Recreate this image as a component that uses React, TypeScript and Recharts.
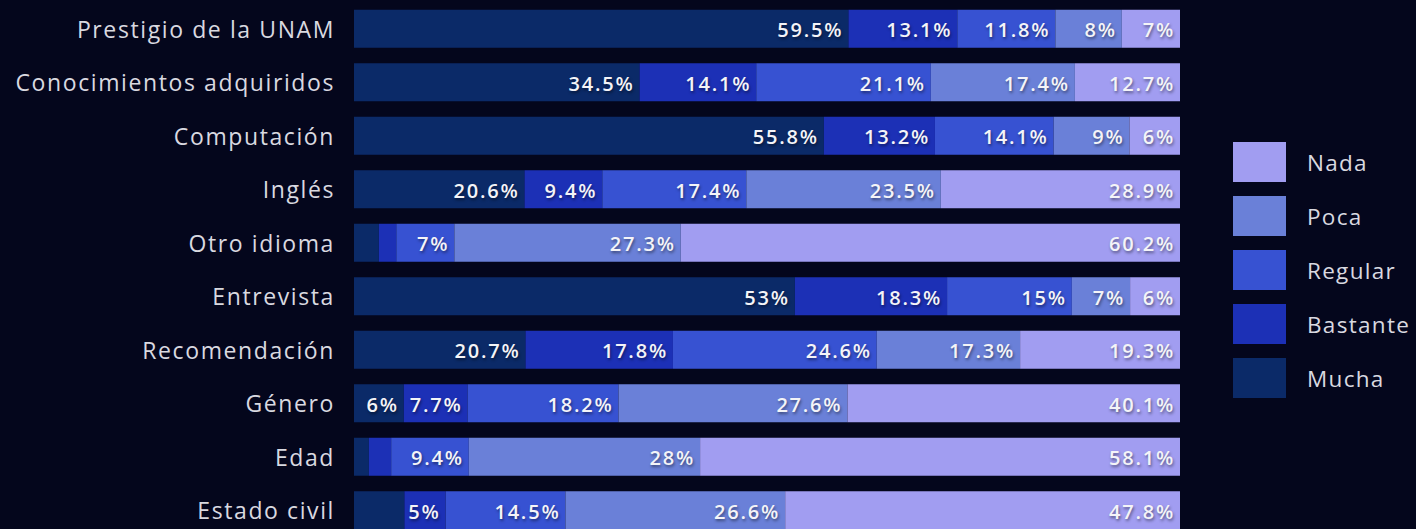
import { BarChart, Bar, XAxis, YAxis, LabelList } from "recharts";

const CATEGORIES = [
  "Prestigio de la UNAM",
  "Conocimientos adquiridos",
  "Computación",
  "Inglés",
  "Otro idioma",
  "Entrevista",
  "Recomendación",
  "Género",
  "Edad",
  "Estado civil",
];

const MUCHA = [59.5, 34.5, 55.8, 20.6, 3.0, 53, 20.7, 6, 1.8, 6.1];
const BASTANTE = [13.1, 14.1, 13.2, 9.4, 2.1, 18.3, 17.8, 7.7, 2.7, 5];
const REGULAR = [11.8, 21.1, 14.1, 17.4, 7, 15, 24.6, 18.2, 9.4, 14.5];
const POCA = [8, 17.4, 9, 23.5, 27.3, 7, 17.3, 27.6, 28, 26.6];
const NADA = [7, 12.7, 6, 28.9, 60.2, 6, 19.3, 40.1, 58.1, 47.8];

const SERIES = [
  { key: "Mucha", color: "#0b2a68" },
  { key: "Bastante", color: "#1c30b6" },
  { key: "Regular", color: "#3752d2" },
  { key: "Poca", color: "#6a80d8" },
  { key: "Nada", color: "#a19df1" },
];

const data = CATEGORIES.map((name, i) => ({
  name,
  Mucha: MUCHA[i],
  Bastante: BASTANTE[i],
  Regular: REGULAR[i],
  Poca: POCA[i],
  Nada: NADA[i],
}));

const LABEL_FONT = "600 20px 'Open Sans'";
const LABEL_LS = 1.8;
let ctx: CanvasRenderingContext2D | null = null;
function textWidth(s: string) {
  if (!ctx) ctx = document.createElement("canvas").getContext("2d");
  if (!ctx) return s.length * 13;
  ctx.font = LABEL_FONT;
  return ctx.measureText(s).width + s.length * LABEL_LS;
}

// hide a value label when it doesn't fit in its segment
const SegLabel = (props: any) => {
  const { x, y, width, height, value } = props;
  const txt = `${value}%`;
  const pad = 3;
  if (textWidth(txt) + pad * 2 > width) return null;
  return (
    <text
      x={x + width - 5}
      y={y + height / 2 + 1}
      textAnchor="end"
      dominantBaseline="central"
      fill="#f4f4f8"
      style={{
        font: LABEL_FONT,
        letterSpacing: LABEL_LS,
        textShadow: "1px 2px 3px rgba(0,0,0,0.45)",
      }}
    >
      {txt}
    </text>
  );
};

const CatTick = (props: any) => {
  const { y, payload } = props;
  return (
    <text
      x={335}
      y={y}
      textAnchor="end"
      dominantBaseline="central"
      fill="#d9d9e0"
      style={{ fontFamily: "'Open Sans'", fontSize: 23, letterSpacing: 1.6 }}
    >
      {payload.value}
    </text>
  );
};

export default function App() {
  return (
    <div
      style={{
        position: "fixed",
        left: 0,
        top: 0,
        width: 1416,
        height: 529,
        overflow: "hidden",
        background: "#04061c",
      }}
    >
      <BarChart
        width={1416}
        height={540}
        data={data}
        layout="vertical"
        stackOffset="expand"
        barCategoryGap="14.5%"
        margin={{ top: 2, right: 236, bottom: 3, left: 0 }}
      >
        <XAxis type="number" hide domain={[0, 1]} />
        <YAxis
          type="category"
          dataKey="name"
          width={354}
          axisLine={false}
          tickLine={false}
          tick={<CatTick />}
          interval={0}
        />
        {SERIES.map((s) => (
          <Bar key={s.key} dataKey={s.key} stackId="a" fill={s.color} isAnimationActive={false}>
            <LabelList dataKey={s.key} content={<SegLabel />} />
          </Bar>
        ))}
      </BarChart>

      <div style={{ position: "absolute", left: 1233, top: 135, display: "flex", flexDirection: "column" }}>
        {[...SERIES].reverse().map((s) => (
          <div key={s.key} style={{ display: "flex", alignItems: "center", height: 54 }}>
            <span style={{ width: 53, height: 40, background: s.color, display: "inline-block" }} />
            <span
              style={{
                marginLeft: 21,
                color: "#d9d9e0",
                fontFamily: "'Open Sans'",
                fontSize: 22.5,
                letterSpacing: 1.3,
              }}
            >
              {s.key}
            </span>
          </div>
        ))}
      </div>
    </div>
  );
}
